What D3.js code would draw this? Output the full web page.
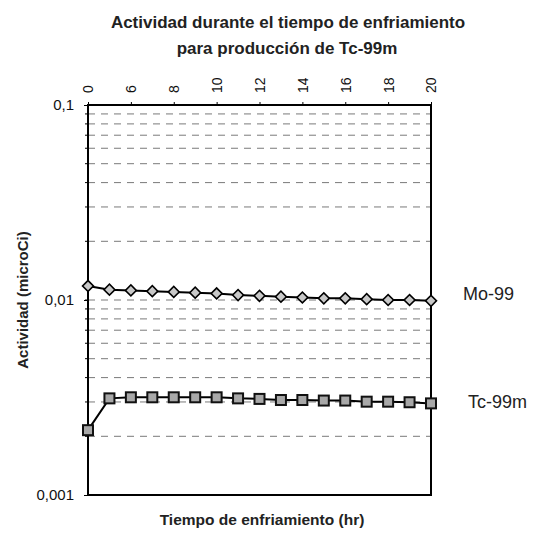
<!DOCTYPE html>
<html>
<head>
<meta charset="utf-8">
<style>
body { margin: 0; background: #fff; }
svg text { font-family: Arial, "Liberation Sans", sans-serif; }
</style>
</head>
<body>
<svg width="538" height="533"></svg>
<script src="https://cdn.jsdelivr.net/npm/d3@7"></script>
<script>

// categories (hours of cooling)
var hours = [0, 5, 6, 7, 8, 9, 10, 11, 12, 13, 14, 15, 16, 17, 18, 19, 20]
var hourLabels = ['0', '6', '8', '10', '12', '14', '16', '18', '20']

// activity in microCi
var mo99 = [0.0118, 0.0113, 0.0112, 0.0111, 0.0110, 0.0109, 0.0108, 0.0106, 0.0105,
	0.0104, 0.0103, 0.0102, 0.0102, 0.0101, 0.0100, 0.0100, 0.0099]
var tc99m = [0.00215, 0.00313, 0.00317, 0.00317, 0.00317, 0.00317, 0.00317, 0.00313, 0.00311,
	0.00307, 0.00307, 0.00305, 0.00305, 0.00301, 0.00301, 0.00299, 0.00295]

var yMajor = [0.1, 0.01, 0.001]
var yMajorLabels = ['0,1', '0,01', '0,001']

var svg = d3.select('svg')

var plotLeft = 88, plotRight = 431, plotTop = 105, plotBottom = 495

var x = d3.scalePoint()
	.domain(hours)
	.range([plotLeft, plotRight])

var y = d3.scaleLog()
	.domain([0.001, 0.1])
	.range([plotBottom, plotTop])

// minor gridlines (dashed)
var minor = []
for (var e = -3; e < -1; e++) {
	for (var k = 1; k <= 9; k++) {
		var v = k * Math.pow(10, e)
		if (v > 0.0011 && v < 0.099) minor.push(v)
	}
}

svg.append('g')
	.selectAll('line')
	.data(minor)
	.enter().append('line')
	.attr('x1', plotLeft)
	.attr('x2', plotRight)
	.attr('y1', function(d) { return y(d) })
	.attr('y2', function(d) { return y(d) })
	.style('stroke', '#7a7a7a')
	.style('stroke-width', 1)
	.style('stroke-dasharray', '7,6')

// left axis
var yAxis = d3.axisLeft(y)
	.tickValues(yMajor)
	.tickSize(4)
	.tickFormat(function(d, i) { return yMajorLabels[i] })

var gy = svg.append('g')
	.attr('transform', 'translate(' + plotLeft + ',0)')
	.call(yAxis)
gy.select('.domain').remove()
gy.selectAll('line').style('stroke', '#000')
gy.selectAll('text')
	.attr('x', -14)
	.style('font-size', '15px')
	.style('fill', '#111')

// minor ticks on the left axis
svg.append('g')
	.selectAll('line')
	.data(minor)
	.enter().append('line')
	.attr('x1', plotLeft - 3)
	.attr('x2', plotLeft)
	.attr('y1', function(d) { return y(d) })
	.attr('y2', function(d) { return y(d) })
	.style('stroke', '#000')

// top axis with rotated labels
var xAxis = d3.axisTop(x)
	.tickValues(hours.filter(function(h) { return hourLabels.indexOf(String(h)) >= 0 }))
	.tickSize(3)
	.tickFormat(function(d) { return d })

var gx = svg.append('g')
	.attr('transform', 'translate(0,' + plotTop + ')')
	.call(xAxis)
gx.select('.domain').remove()
gx.selectAll('line').style('stroke', '#000')
gx.selectAll('text')
	.attr('transform', 'rotate(-90)')
	.attr('x', 12)
	.attr('y', 0)
	.attr('dy', '0.35em')
	.style('text-anchor', 'start')
	.style('font-size', '14px')
	.style('fill', '#111')

// plot frame
svg.append('rect')
	.attr('x', plotLeft)
	.attr('y', plotTop)
	.attr('width', plotRight - plotLeft)
	.attr('height', plotBottom - plotTop)
	.style('fill', 'none')
	.style('stroke', '#000')
	.style('stroke-width', 2)

var line = d3.line()
	.x(function(d, i) { return x(hours[i]) })
	.y(function(d) { return y(d) })

// Mo-99
svg.append('path')
	.datum(mo99)
	.attr('d', line)
	.style('fill', 'none')
	.style('stroke', '#000')
	.style('stroke-width', 2)

svg.append('g')
	.selectAll('path')
	.data(mo99)
	.enter().append('path')
	.attr('d', d3.symbol().type(d3.symbolSquare).size(60))
	.attr('transform', function(d, i) { return 'translate(' + x(hours[i]) + ',' + y(d) + ') rotate(45)' })
	.style('fill', '#c8c8c8')
	.style('stroke', '#000')
	.style('stroke-width', 1.6)

// Tc-99m
svg.append('path')
	.datum(tc99m)
	.attr('d', line)
	.style('fill', 'none')
	.style('stroke', '#000')
	.style('stroke-width', 2)

svg.append('g')
	.selectAll('rect')
	.data(tc99m)
	.enter().append('rect')
	.attr('x', function(d, i) { return x(hours[i]) - 5 })
	.attr('y', function(d) { return y(d) - 5 })
	.attr('width', 10)
	.attr('height', 10)
	.style('fill', '#a8a8a8')
	.style('stroke', '#111')
	.style('stroke-width', 2)

// series labels
svg.append('text')
	.attr('x', 463)
	.attr('y', y(mo99[mo99.length - 1]) - 1)
	.style('font-size', '18px')
	.style('fill', '#222')
	.text('Mo-99')

svg.append('text')
	.attr('x', 468)
	.attr('y', y(tc99m[tc99m.length - 1]) + 5)
	.style('font-size', '18px')
	.style('fill', '#222')
	.text('Tc-99m')

// titles
svg.append('text')
	.attr('x', 288)
	.attr('y', 28)
	.style('text-anchor', 'middle')
	.style('font-size', '17px')
	.style('font-weight', 'bold')
	.style('fill', '#222')
	.text('Actividad durante el tiempo de enfriamiento')

svg.append('text')
	.attr('x', 287)
	.attr('y', 54)
	.style('text-anchor', 'middle')
	.style('font-size', '17px')
	.style('font-weight', 'bold')
	.style('fill', '#222')
	.text('para producción de Tc-99m')

svg.append('text')
	.attr('transform', 'translate(28,' + 300 + ') rotate(-90)')
	.style('text-anchor', 'middle')
	.style('font-size', '15px')
	.style('font-weight', 'bold')
	.style('fill', '#222')
	.text('Actividad (microCi)')

svg.append('text')
	.attr('x', 262)
	.attr('y', 525)
	.style('text-anchor', 'middle')
	.style('font-size', '15.5px')
	.style('font-weight', 'bold')
	.style('fill', '#222')
	.text('Tiempo de enfriamiento (hr)')

</script>
</body>
</html>
